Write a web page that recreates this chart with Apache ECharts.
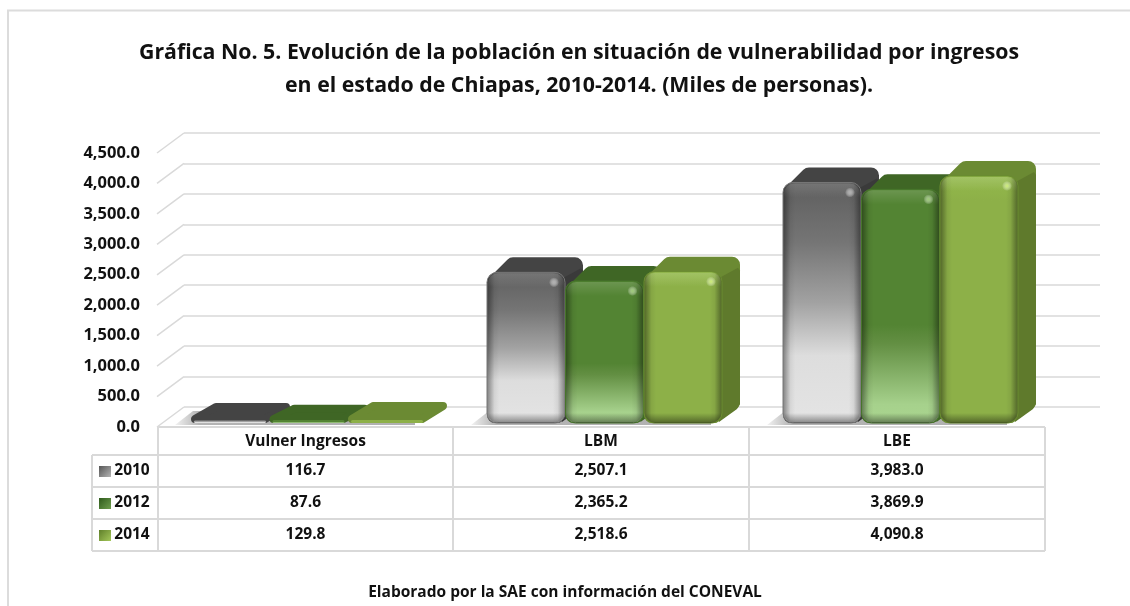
<!DOCTYPE html>
<html>
<head>
<meta charset="utf-8">
<style>html,body{margin:0;padding:0;background:#fff}#main{width:1130px;height:606px}</style>
<script src="https://cdn.jsdelivr.net/npm/echarts@6/dist/echarts.min.js"></script>
</head>
<body>
<div id="main"></div>
<script>
var categories = ['Vulner Ingresos', 'LBM', 'LBE'];
var years = ['2010', '2012', '2014'];
var values2010 = [116.7, 2507.1, 3983.0];
var values2012 = [87.6, 2365.2, 3869.9];
var values2014 = [129.8, 2518.6, 4090.8];
var ticks = [0, 500, 1000, 1500, 2000, 2500, 3000, 3500, 4000, 4500];
var titleText = 'Gráfica No. 5. Evolución de la población en situación de vulnerabilidad por ingresos\nen el estado de Chiapas, 2010-2014. (Miles de personas).';
var sourceText = 'Elaborado por la SAE con información del CONEVAL';

var FONT = '"Open Sans"';
var GRID_LEFT = 157, GRID_RIGHT = 1045, GRID_TOP = 153, GRID_BOTTOM = 427;
var BACK_X = 27, BACK_Y = -20;
var DEPTH_X = 18, DEPTH_Y = -15;
var BAR_W = 78, BAR_SHIFT = 3.5, FLOOR_Y = -4, TOP_INSET = 2;
var GRID_COLOR = '#d9d9d9';

var allValues = [values2010, values2012, values2014];

var faces = [
   {
      front: [[0, '#5e5e5e'], [0.25, '#757575'], [0.5, '#a2a2a2'], [0.72, '#dddddd'], [1, '#e4e4e4']],
      top: '#444444', side: '#3a3a3a', edge: '#777777', glint: '#b0b0b0', key: ['#555', '#b5b5b5']
   },
   {
      front: [[0, '#538433'], [0.58, '#538433'], [0.66, '#638f43'], [0.92, '#a6d18c'], [1, '#aad58f']],
      top: '#3f6625', side: '#3f6625', edge: '#47752b', glint: '#9ccb74', key: ['#2f5a1c', '#6f9f4f']
   },
   {
      front: [[0, '#93b94b'], [0.1, '#8db048'], [1, '#8db048']],
      top: '#6b8a33', side: '#5f7a2c', edge: '#6a8c30', glint: '#cbee70', key: ['#5f7f2a', '#a5c85a']
   }
];

function fmt(v) {
   return v.toFixed(1).replace(/\B(?=(\d{3})+(?!\d))/g, ',');
}

function grad(x0, y0, x1, y1, stops) {
   return new echarts.graphic.LinearGradient(x0, y0, x1, y1, stops.map(function (s) {
      return {offset: s[0], color: s[1]};
   }));
}

// one bar: floor shadow, rounded back silhouette, side, front, bevels
function renderBar(s) {
   return function (params, api) {
      var cat = api.value(0);
      var p = api.coord([cat, api.value(1)]);
      var base = api.coord([cat, 0]);
      var x = p[0] + BAR_SHIFT + (s - 1) * (BAR_W + 0.5) - BAR_W / 2;
      var y = p[1] + FLOOR_Y + TOP_INSET;
      var b = base[1] + FLOOR_Y;
      var w = BAR_W, h = b - y;
      var f = faces[s];
      var tall = h > 30;
      var r = Math.min(10, h / 2);
      var q = tall ? 8 : 4;
      var dx = tall ? DEPTH_X : DEPTH_X + 3;
      var dy = DEPTH_Y;
      var children = [];
      if (s === 0) {
         children.push({
            type: 'polygon',
            shape: {points: [[x - 16, b + 2], [x + 2, b - 12], [x + w * 3 - 10, b - 12], [x + w * 3 - 10, b + 2]]},
            style: {fill: grad(0, 0, 1, 0, [[0, '#f2f2f2'], [0.1, '#b4b4b4'], [1, '#b0b0b0']])}
         });
      }
      children.push({
         type: 'polygon',
         shape: {points: [[x + q, Math.min(y + q + 3, b - q)], [x + dx + q, y + dy + q], [x + w + dx - q, y + dy + q],
            [x + w + dx - q, Math.max(y + dy + q, b + dy - q + 2)], [x + w - q, b - q], [x + q, b - q]]},
         style: {fill: f.top, stroke: f.top, lineWidth: q * 2, lineJoin: 'round'}
      });
      if (tall) {
         children.push({
            type: 'polygon',
            shape: {points: [[x + w - 6, y + 8], [x + w + dx - 2, y + dy + 11], [x + w + dx, y + dy + 14],
               [x + w + dx, b + dy - 4], [x + w + dx - 3, b + dy + 1], [x + w - 3, b - 1]]},
            style: {fill: f.side}
         });
      }
      children.push({
         type: 'rect',
         shape: {x: x + (tall ? 0 : 3), y: tall ? y : b - 3, width: w - (tall ? 0 : 6), height: tall ? h : 3, r: tall ? r : 1.5},
         style: {fill: grad(0, 0, 0, 1, f.front)}
      });
      if (tall) {
         children.push({
            type: 'rect',
            shape: {x: x, y: y, width: w, height: h, r: r},
            style: {fill: grad(0, 0, 1, 0, [[0, 'rgba(0,0,0,0.45)'], [0.1, 'rgba(0,0,0,0.06)'], [0.16, 'rgba(0,0,0,0)'], [0.84, 'rgba(0,0,0,0)'], [0.9, 'rgba(0,0,0,0.06)'], [1, 'rgba(0,0,0,0.45)']]),
               stroke: f.edge, lineWidth: 1}
         });
         children.push({
            type: 'rect',
            shape: {x: x + 1, y: y + 1, width: w - 2, height: 14, r: [r, r, 0, 0]},
            style: {fill: grad(0, 0, 0, 1, [[0, 'rgba(255,255,255,0.14)'], [1, 'rgba(255,255,255,0)']])}
         });
         children.push({
            type: 'rect',
            shape: {x: x + 1, y: b - 10, width: w - 2, height: 10, r: [0, 0, r, r]},
            style: {fill: grad(0, 0, 0, 1, [[0, 'rgba(0,0,0,0)'], [1, 'rgba(0,0,0,0.42)']])}
         });
         children.push({
            type: 'circle',
            shape: {cx: x + w - 11, cy: y + 10, r: 5},
            style: {fill: new echarts.graphic.RadialGradient(0.5, 0.5, 0.5, [
               {offset: 0, color: f.glint},
               {offset: 1, color: 'rgba(255,255,255,0)'}
            ])}
         });
      }
      return {type: 'group', children: children};
   };
}

// slanted lines joining the axis to the back wall
function renderWall(params, api) {
   var a = api.coord([0, api.value(0)]);
   return {
      type: 'line',
      shape: {x1: GRID_LEFT, y1: a[1], x2: GRID_LEFT + BACK_X, y2: a[1] + BACK_Y},
      style: {stroke: GRID_COLOR, lineWidth: 1.5},
      silent: true
   };
}

// data table under the plot, built from the arrays
function tableGraphics() {
   var g = [];
   var colX = [92, GRID_LEFT + 1, 453, 749, GRID_RIGHT];
   var rowY = [427, 455, 487, 519, 551];
   function line(x1, y1, x2, y2) {
      g.push({type: 'line', shape: {x1: x1, y1: y1, x2: x2, y2: y2}, style: {stroke: GRID_COLOR, lineWidth: 2}, silent: true});
   }
   function cell(text, x, y) {
      g.push({type: 'text', x: x, y: y, style: {text: text, fill: '#111', font: 'bold 15.5px ' + FONT, align: 'center', verticalAlign: 'middle'}, silent: true});
   }
   rowY.forEach(function (y, i) {
      line(i === 0 ? GRID_LEFT : colX[0], y, GRID_RIGHT, y);
   });
   colX.forEach(function (x, i) {
      line(x, i === 0 ? rowY[1] : rowY[0], x, rowY[4]);
   });
   categories.forEach(function (c, i) {
      cell(c, (colX[i + 1] + colX[i + 2]) / 2, (rowY[0] + rowY[1]) / 2 + 1);
   });
   years.forEach(function (yr, s) {
      var cy = (rowY[s + 1] + rowY[s + 2]) / 2;
      g.push({type: 'rect', shape: {x: 99, y: cy - 5, width: 12, height: 11},
         style: {fill: grad(0, 0, 1, 1, [[0, faces[s].key[0]], [1, faces[s].key[1]]])}, silent: true});
      cell(yr, 132, cy);
      allValues[s].forEach(function (v, i) {
         cell(fmt(v), (colX[i + 1] + colX[i + 2]) / 2, cy);
      });
   });
   return g;
}

var myChart = echarts.init(document.getElementById('main'), null, {renderer: 'canvas'});

var barSeries = allValues.map(function (vals, s) {
   return {
      name: years[s],
      type: 'custom',
      xAxisIndex: 0,
      yAxisIndex: 0,
      renderItem: renderBar(s),
      encode: {x: 0, y: 1},
      data: vals.map(function (v, i) { return [i, v]; }),
      z: 5 + s,
      clip: false
   };
});

myChart.setOption({
   backgroundColor: '#fff',
   animation: false,
   title: {
      text: titleText,
      left: 574,
      top: 31,
      textAlign: 'center',
      textStyle: {fontFamily: FONT, fontWeight: 'bold', fontSize: 21.3, lineHeight: 33, color: '#111'}
   },
   grid: [
      {left: GRID_LEFT, right: 1130 - GRID_RIGHT, top: GRID_TOP, bottom: 606 - GRID_BOTTOM},
      {left: GRID_LEFT + BACK_X, right: 1130 - 1100, top: GRID_TOP + BACK_Y, bottom: 606 - GRID_BOTTOM - BACK_Y}
   ],
   xAxis: [
      {type: 'category', gridIndex: 0, data: categories, axisLine: {show: false}, axisTick: {show: false}, axisLabel: {show: false}},
      {type: 'category', gridIndex: 1, data: categories, axisLine: {show: false}, axisTick: {show: false}, axisLabel: {show: false}}
   ],
   yAxis: [
      {
         type: 'value', gridIndex: 0, min: 0, max: 4500, interval: 500,
         axisLine: {show: false}, axisTick: {show: false}, splitLine: {show: false},
         axisLabel: {
            margin: 17,
            fontFamily: FONT, fontWeight: 'bold', fontSize: 16.5, color: '#111',
            formatter: function (v) { return fmt(v); }
         }
      },
      {
         type: 'value', gridIndex: 1, min: 0, max: 4500, interval: 500,
         axisLine: {show: false}, axisTick: {show: false}, axisLabel: {show: false},
         splitLine: {show: true, lineStyle: {color: GRID_COLOR, width: 1.5}}
      }
   ],
   series: [{
      type: 'custom',
      xAxisIndex: 0,
      yAxisIndex: 0,
      renderItem: renderWall,
      encode: {y: 0},
      data: ticks.map(function (t) { return [t]; }),
      z: 1,
      clip: false
   }].concat(barSeries),
   graphic: [
      {type: 'rect', shape: {x: 8, y: 10.5, width: 1200, height: 700}, style: {fill: 'none', stroke: '#dcdcdc', lineWidth: 2}, silent: true, z: 0},
      {type: 'text', x: 565, y: 593, style: {text: sourceText, fill: '#111', font: 'bold 15.5px ' + FONT, align: 'center', verticalAlign: 'middle'}, silent: true}
   ].concat(tableGraphics())
});
</script>
</body>
</html>
